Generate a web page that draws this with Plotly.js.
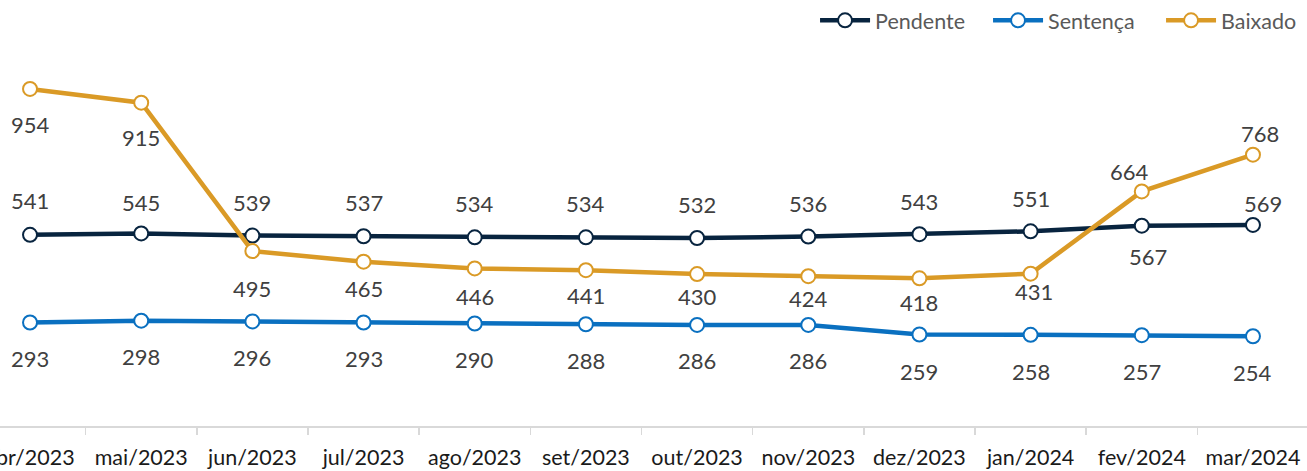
<!DOCTYPE html>
<html><head><meta charset="utf-8">
<script src="https://cdn.plot.ly/plotly-3.0.1.min.js"></script>
<style>html,body{margin:0;padding:0;background:#fff;overflow:hidden}#chart{width:1307px;height:471px}</style>
</head><body><div id="chart"></div>
<script>
const months = ["abr/2023","mai/2023","jun/2023","jul/2023","ago/2023","set/2023","out/2023","nov/2023","dez/2023","jan/2024","fev/2024","mar/2024"];
const pendente = [541,545,539,537,534,534,532,536,543,551,567,569];
const sentenca = [293,298,296,293,290,288,286,286,259,258,257,254];
const baixado  = [954,915,495,465,446,441,430,424,418,431,664,768];

// label offsets in pixels (styling only): dy > 0 means below the point
const pendenteDy = [-34,-31,-33,-34,-34,-34,-34,-33,-33,-33,31,-21];
const pendenteDx = [0,0,0,0,0,0,0,0,0,0,6,10];
const sentencaDy = [36,36,36,36,36,36,36,36,37,37,36,36];
const sentencaDx = [0,0,0,0,0,0,0,0,0,0,0,0];
const baixadoDy  = [36,35,37,27,28,25,22,22,24,18,-20,-21];
const baixadoDx  = [0,0,0,0,0,0,0,0,0,3,-12,7];

const colors = {p:"#08243f", s:"#0a70c0", b:"#da9a26"};
const fontFam = "Lato, 'Liberation Sans', sans-serif";

function trace(name, y, color){
  return {x: months, y: y, name: name, type:"scatter", mode:"lines+markers",
    line:{color:color, width:4.5},
    marker:{symbol:"circle", size:14, color:"#ffffff", line:{color:color, width:2}},
    hoverinfo:"skip"};
}
const data = [trace("Pendente", pendente, colors.p), trace("Sentença", sentenca, colors.s), trace("Baixado", baixado, colors.b)];

const annotations = [];
[[pendente,pendenteDy,pendenteDx],[sentenca,sentencaDy,sentencaDx],[baixado,baixadoDy,baixadoDx]].forEach(([vals,dy,dx])=>{
  vals.forEach((v,i)=>{
    annotations.push({x: months[i], y: v, xref:"x", yref:"y", text: String(v), showarrow:false,
      yshift: -dy[i], xshift: dx[i], font:{family:fontFam, size:22, color:"#404040"}});
  });
});

const layout = {
  width:1307, height:471,
  margin:{l:0, r:0, t:2, b:45, autoexpand:false},
  paper_bgcolor:"#fff", plot_bgcolor:"#fff",
  showlegend:true,
  legend:{orientation:"h", x:0.6236, xanchor:"left", y:1.005, yanchor:"top", yref:"paper",
    itemwidth:50, entrywidth:108, entrywidthmode:"pixels",
    font:{family:fontFam, size:21.5, color:"#595959"}, bgcolor:"rgba(0,0,0,0)", itemclick:false,
    tracegroupgap:0},
  xaxis:{type:"category", range:[-0.27, 11.486], showgrid:false, zeroline:false,
    showline:true, linecolor:"#d9d9d9", linewidth:1.5,
    ticks:"outside", tickson:"boundaries", ticklen:7, tickcolor:"#d9d9d9", tickwidth:1.5,
    ticklabelstandoff:12,
    tickfont:{family:fontFam, size:21.5, color:"#1a1a1a"}, fixedrange:true},
  yaxis:{range:[0,1200], visible:false, showgrid:false, zeroline:false, fixedrange:true},
  annotations: annotations
};
Plotly.newPlot("chart", data, layout, {displayModeBar:false, staticPlot:true});
</script></body></html>
